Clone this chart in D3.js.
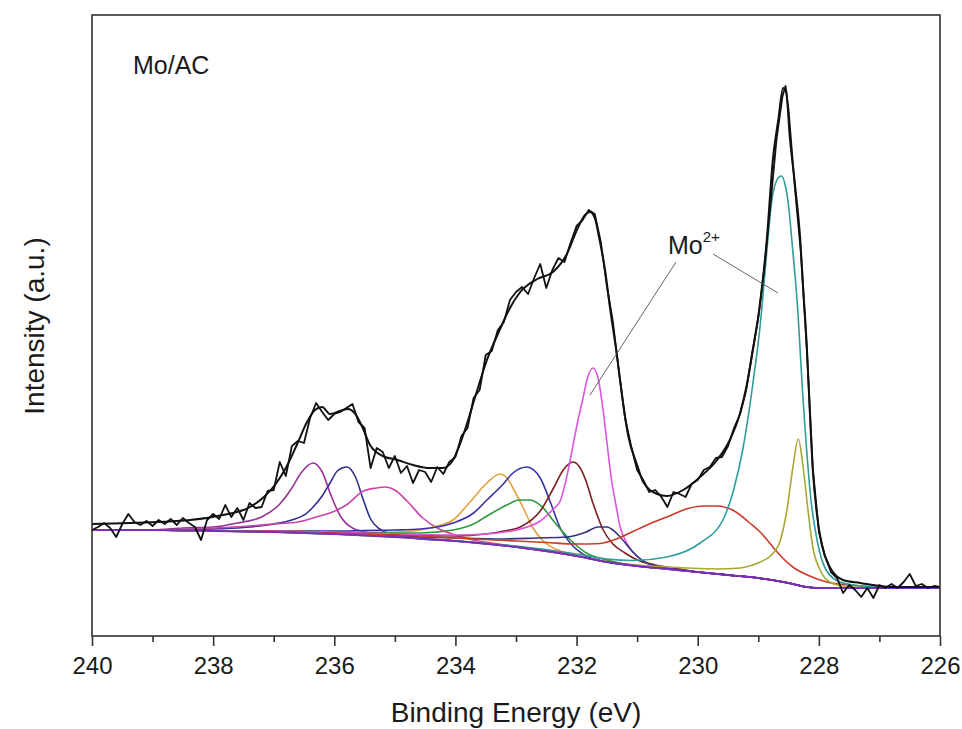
<!DOCTYPE html>
<html>
<head>
<meta charset="utf-8">
<script src="https://cdn.jsdelivr.net/npm/d3@7"></script>
<style>
  body { margin: 0; background: #fff; }
  svg { display: block; }
  text { font-family: "Liberation Sans", Arial, Helvetica, sans-serif; fill: #1a1a1a; }
</style>
</head>
<body>
<svg id="chart" width="962" height="729"></svg>
<script>
// Mo 3d XPS region of the Mo/AC catalyst: binding energy (eV) vs intensity (a.u.)
const xTicks = [240, 239, 238, 237, 236, 235, 234, 233, 232, 231, 230, 229, 228, 227, 226];

// measured spectrum [binding energy, intensity]
const rawSpectrum = [
  [240.0,106],[239.9,109],[239.8,113],[239.7,108],[239.6,99],[239.5,112],[239.4,122],[239.3,114],[239.2,111],[239.1,115],
  [239.0,110],[238.9,116],[238.8,112],[238.7,117],[238.6,111],[238.5,118],[238.4,113],[238.3,109],[238.2,96],[238.1,116],
  [238.0,122],[237.9,117],[237.8,131],[237.7,119],[237.6,128],[237.5,116],[237.4,133],[237.3,128],[237.2,129],[237.1,145],
  [237.0,146],[236.9,174],[236.8,160],[236.7,190],[236.6,195],[236.5,193],[236.4,218],[236.3,233],[236.2,224],[236.1,216],
  [236.0,222],[235.9,224],[235.8,228],[235.7,232],[235.6,214],[235.5,208],[235.4,168],[235.3,188],[235.2,184],[235.1,168],
  [235.0,180],[234.9,163],[234.8,170],[234.7,153],[234.6,166],[234.5,164],[234.4,154],[234.3,169],[234.2,162],[234.1,174],
  [234.0,179],[233.9,200],[233.8,208],[233.7,238],[233.6,246],[233.5,281],[233.4,285],[233.3,306],[233.2,314],[233.1,336],
  [233.0,344],[232.9,349],[232.8,342],[232.7,358],[232.6,372],[232.5,348],[232.4,366],[232.3,378],[232.2,374],[232.1,393],
  [232.0,410],[231.9,416],[231.8,426],[231.7,422],[231.6,394],[231.5,350],[231.4,314],[231.3,264],[231.2,218],[231.1,190],
  [231.0,166],[230.9,156],[230.8,144],[230.7,146],[230.6,139],[230.5,129],[230.4,144],[230.3,142],[230.2,139],[230.1,152],
  [230.0,156],[229.9,166],[229.8,169],[229.7,178],[229.6,179],[229.5,190],[229.4,208],[229.3,222],[229.2,246],[229.1,283],
  [229.0,318],[228.9,368],[228.8,431],[228.7,496],[228.6,540],[228.55,550],[228.5,526],[228.4,451],[228.3,386],[228.2,288],
  [228.1,168],[228.0,104],[227.9,80],[227.8,64],[227.7,58],[227.6,43],[227.5,51],[227.4,46],[227.3,39],[227.2,48],
  [227.1,38],[227.0,51],[226.9,48],[226.8,52],[226.7,48],[226.6,54],[226.5,62],[226.4,50],[226.3,52],[226.2,48],
  [226.1,50],[226.0,49]
];

// fitted envelope
const fitEnvelope = [
  [240.00,112],[238.93,114],[238.38,116],[237.84,121],[237.39,129],[237.18,138],[236.98,151],[236.80,168],[236.62,191],
  [236.45,214],[236.32,226],[236.20,229],[236.07,222],[235.91,225],[235.77,227],[235.63,220],[235.53,208],[235.41,191],
  [235.20,180],[234.96,176],[234.70,171],[234.42,168],[234.21,168],[234.06,174],[233.93,191],[233.79,216],[233.68,238],
  [233.48,276],[233.27,306],[233.10,328],[232.93,344],[232.65,357],[232.39,364],[232.16,382],[231.98,408],[231.86,421],
  [231.78,424],[231.70,418],[231.62,396],[231.53,366],[231.45,329],[231.33,279],[231.25,241],[231.15,201],[231.00,171],
  [230.90,154],[230.67,142],[230.51,140],[230.24,146],[229.96,159],[229.68,176],[229.47,196],[229.30,223],[229.19,251],
  [229.09,286],[228.97,333],[228.86,396],[228.76,476],[228.67,516],[228.59,548],[228.54,544],[228.48,499],[228.39,449],
  [228.31,399],[228.26,349],[228.20,291],[228.15,226],[228.10,166],[228.03,121],[227.95,91],[227.82,69],[227.60,56],
  [227.32,53],[226.78,49],[226.00,49]
];

// Shirley background
const background = [
  [240,106],[239,106],[238,105],[237,104],[236,102],[235,99],[234,95],[233,89],[232,80],[231.5,74],
  [231,70],[230.5,67],[230,64],[229.5,61],[229,58],[228.5,53],[228.2,49],[228,48],[227,48],[226,48]
];

// fitted components (background included); outside the listed range each one lies on the background
const peakA = [[238.5,108],[238.0,109],[237.6,113],[237.2,119],[236.9,132],[236.7,148],[236.55,163],[236.35,173],[236.2,164],[236.05,140],[235.9,120],[235.7,108],[235.4,103],[235.0,100]];
const peakB = [[238.0,107],[237.5,108.5],[237.0,112],[236.7,116],[236.45,123],[236.35,129],[236.2,140],[236.07,153],[235.95,165],[235.79,169],[235.65,159],[235.52,136],[235.4,117],[235.25,107],[235.0,101],[234.7,97.8]];
const peakC = [[238.0,108],[237.5,109.5],[237.0,112],[236.6,114],[236.3,119],[236.07,123],[235.8,131],[235.52,145],[235.3,148],[235.16,149],[235.0,146],[234.8,135],[234.54,118],[234.3,108],[234.0,101],[233.7,96],[233.3,92]];
const peakD = [[237.0,105],[236.0,104],[235.5,103.5],[235.0,104],[234.58,106],[234.3,110],[234.04,116],[233.76,134],[233.48,153],[233.27,162],[233.15,158],[233.05,148],[232.88,128],[232.72,108],[232.55,95],[232.27,85],[232.0,81]];
const peakE = [[237.0,105],[236.0,105],[235.5,105.5],[235.0,106],[234.58,107],[234.04,113],[233.7,123],[233.48,136],[233.21,152],[233.05,163],[232.82,169],[232.6,158],[232.44,135],[232.27,108],[232.06,90],[231.84,80]];
const peakF = [[237.0,105],[236.0,104],[235.5,103.5],[235.0,103],[234.58,103],[234.04,106],[233.7,112],[233.48,120],[233.15,131],[232.95,136],[232.77,136],[232.55,128],[232.38,115],[232.1,96],[231.84,83],[231.5,76]];
const peakG = [[237.0,105],[236.0,104],[235.0,102],[234.0,100],[233.5,102],[233.2,105],[232.93,109],[232.6,125],[232.38,148],[232.22,166],[232.06,174],[231.95,169],[231.85,156],[231.73,133],[231.56,106],[231.4,92],[231.2,83],[231.0,76],[230.7,71],[230.3,67]];
const peakH = [[237.0,105],[236.0,104],[235.0,102],[234.0,101],[233.5,102],[233.0,106],[232.6,115],[232.4,126],[232.27,135],[232.17,157],[232.07,187],[231.98,215],[231.9,236],[231.82,258],[231.73,268],[231.65,259],[231.56,225],[231.49,189],[231.42,155],[231.35,131],[231.28,109],[231.17,93],[231.07,84],[230.9,75],[230.74,70]];
const peakI = [[235.0,100],[234.0,98],[233.3,97],[232.65,98],[232.16,99],[231.84,104],[231.65,109],[231.5,109],[231.38,105],[231.28,99],[231.07,84],[230.9,75],[230.79,72],[230.5,68]];
const peakJ = [[237.0,104.5],[236.0,103],[235.0,101],[234.0,98],[233.0,95],[232.5,93.5],[232.0,92],[231.61,92.5],[231.3,98],[231.07,104.5],[230.8,112],[230.51,119],[230.13,128],[229.9,130],[229.68,130],[229.41,125.5],[229.14,113],[228.97,104],[228.86,96.6],[228.69,84],[228.43,69],[228.15,60],[227.87,54],[227.49,51],[227.0,49]];
const peakK = [[233.0,90],[232.0,82],[231.5,77],[231.07,75.5],[230.51,79],[229.96,93],[229.58,116.5],[229.41,145.5],[229.25,188.5],[229.08,256.5],[228.97,310],[228.86,384],[228.78,434],[228.7,455],[228.62,460],[228.56,452],[228.51,435],[228.43,385],[228.36,336],[228.26,236],[228.13,136],[228.03,96],[227.88,66],[227.65,54],[227.3,50],[227.0,49]];
const peakL = [[231.0,71],[230.5,69],[229.68,67],[229.3,68],[229.14,70],[228.97,74],[228.8,80],[228.64,95],[228.53,125],[228.43,168],[228.34,197],[228.26,169],[228.18,126],[228.1,89],[227.98,66],[227.82,54],[227.6,50]];

const components = [peakA, peakB, peakC, peakD, peakE, peakF, peakG, peakH, peakI, peakJ, peakK, peakL];
const componentColors = ["#993399", "#2e2e8c", "#cc44aa", "#e3a13e", "#3535a8", "#2f9a3a",
                         "#7a1f22", "#dc55dc", "#34347e", "#cc3a2a", "#2f9c9c", "#a8a832"];

const annotationText = "Mo";
const annotationSup = "2+";
const sampleLabel = "Mo/AC";

const svg = d3.select("#chart");
const plot = { left: 92, right: 940, top: 15, bottom: 636 };

const x = d3.scaleLinear().domain([240, 226]).range([plot.left, plot.right]);
const y = d3.scaleLinear().domain([0, 621]).range([plot.bottom, plot.top]);

const smooth = d3.line().x(d => x(d[0])).y(d => y(d[1])).curve(d3.curveMonotoneX);
const jagged = d3.line().x(d => x(d[0])).y(d => y(d[1]));

// each component joined to the background beyond its own points
function onBackground(points) {
  const hi = d3.max(points, d => d[0]);
  const lo = d3.min(points, d => d[0]);
  return background.filter(d => d[0] > hi || d[0] < lo)
    .concat(points)
    .sort((a, b) => b[0] - a[0]);
}

const curves = svg.append("g");
components.forEach((pts, i) => {
  curves.append("path")
    .attr("d", smooth(onBackground(pts)))
    .attr("fill", "none")
    .attr("stroke", componentColors[i])
    .attr("stroke-width", 1.6);
});

curves.append("path")
  .attr("d", smooth(background))
  .attr("fill", "none")
  .attr("stroke", "#7a2fb8")
  .attr("stroke-width", 2);

curves.append("path")
  .attr("d", jagged(rawSpectrum))
  .attr("fill", "none")
  .attr("stroke", "#111")
  .attr("stroke-width", 1.8)
  .attr("stroke-linejoin", "round");

curves.append("path")
  .attr("d", smooth(fitEnvelope))
  .attr("fill", "none")
  .attr("stroke", "#111")
  .attr("stroke-width", 2);

// frame
svg.append("rect")
  .attr("x", plot.left).attr("y", plot.top)
  .attr("width", plot.right - plot.left).attr("height", plot.bottom - plot.top)
  .attr("fill", "none").attr("stroke", "#333").attr("stroke-width", 1.6);

// bottom axis: labelled major ticks on even values, short minor ticks between
const majorAxis = d3.axisBottom(x)
  .tickValues(xTicks.filter(v => v % 2 === 0))
  .tickSize(10).tickPadding(11).tickFormat(d3.format("d"));
const minorAxis = d3.axisBottom(x)
  .tickValues(xTicks.filter(v => v % 2 !== 0))
  .tickSize(6).tickFormat("");

const gMajor = svg.append("g").attr("transform", `translate(0,${plot.bottom})`).call(majorAxis);
const gMinor = svg.append("g").attr("transform", `translate(0,${plot.bottom})`).call(minorAxis);
[gMajor, gMinor].forEach(g => {
  g.select(".domain").remove();
  g.selectAll(".tick line").attr("stroke", "#333").attr("stroke-width", 1.6);
});
gMajor.selectAll(".tick text")
  .style("font-family", '"Liberation Sans", Arial, sans-serif')
  .attr("font-size", 24).attr("fill", "#1a1a1a");

svg.append("text")
  .attr("x", (plot.left + plot.right) / 2).attr("y", 722)
  .attr("text-anchor", "middle").attr("font-size", 28)
  .text("Binding Energy (eV)");

svg.append("text")
  .attr("transform", "translate(44,326) rotate(-90)")
  .attr("text-anchor", "middle").attr("font-size", 28)
  .text("Intensity (a.u.)");

svg.append("text")
  .attr("x", 133).attr("y", 74).attr("font-size", 25)
  .text(sampleLabel);

// Mo2+ label with leader lines
const label = svg.append("text").attr("x", 668).attr("y", 254).attr("font-size", 25);
label.append("tspan").text(annotationText);
label.append("tspan").attr("dy", -12).attr("font-size", 15).text(annotationSup);

svg.append("line").attr("x1", 676).attr("y1", 262).attr("x2", 590).attr("y2", 395)
  .attr("stroke", "#555").attr("stroke-width", 0.9);
svg.append("line").attr("x1", 713).attr("y1", 254).attr("x2", 778).attr("y2", 293)
  .attr("stroke", "#555").attr("stroke-width", 0.9);
</script>
</body>
</html>
